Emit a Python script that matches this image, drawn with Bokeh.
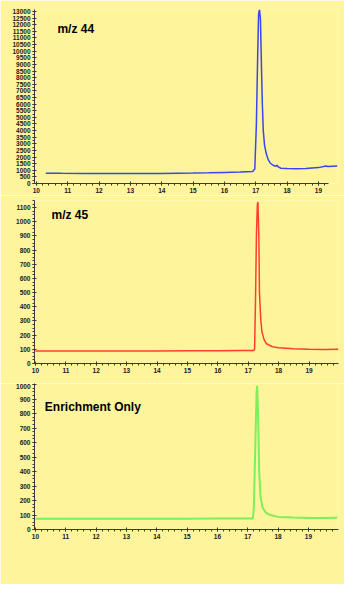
from bokeh.plotting import figure
from bokeh.layouts import column
from bokeh.models import Range1d, Label, SingleIntervalTicker
from bokeh.embed import file_html
from bokeh.resources import INLINE

# ---- data ----
x44 = [10.3, 10.8, 11.5, 12.0, 12.5, 13.0, 13.5, 14.0, 14.5, 15.0, 15.5, 16.0, 16.5, 16.9,
       16.97, 17.02, 17.06, 17.09, 17.12, 17.15, 17.18, 17.21, 17.24, 17.28, 17.33, 17.39,
       17.46, 17.55, 17.64, 17.68, 17.72, 17.8, 18.0, 18.3, 18.6, 19.0, 19.24, 19.3, 19.45, 19.6]
y44 = [780, 770, 765, 760, 755, 757, 760, 760, 775, 790, 810, 840, 870, 900,
       1100, 4500, 9500, 12800, 13150, 12400, 9000, 6000, 4000, 2900, 2300, 1850,
       1550, 1380, 1300, 1380, 1250, 1150, 1130, 1120, 1130, 1200, 1320, 1290, 1310, 1330]

x45 = [10.0, 11.0, 12.0, 13.0, 14.0, 15.0, 16.0, 16.8, 17.18, 17.21, 17.24, 17.27, 17.30,
       17.32, 17.35, 17.37, 17.41, 17.45, 17.52, 17.6, 17.8, 18.0, 18.5, 19.0, 19.5, 19.97]
y45 = [88, 88, 88, 89, 89, 90, 90, 92, 92, 100, 450, 900, 1120,
       1140, 900, 500, 320, 225, 170, 139, 118, 111, 104, 100, 98, 100]

xen = [10.0, 11.0, 12.0, 13.0, 14.0, 15.0, 16.0, 16.8, 17.17, 17.2, 17.25, 17.29, 17.31,
       17.34, 17.375, 17.42, 17.48, 17.58, 17.69, 18.0, 18.5, 19.0, 19.5, 19.95]
yen = [74, 74, 75, 75, 75, 75, 76, 76, 76, 150, 600, 950, 990,
       800, 403, 230, 155, 120, 103, 87, 82, 80, 80, 81]

titles = ["m/z 44", "m/z 45", "Enrichment Only"]

BG = "#FDF49B"
AX = "#3a3a3a"


def panel(h, x, y, color, lw, xr, yr, ytick, yminor, title, tx, ty,
          bl, bt, br, bb, xbounds=None):
    p = figure(width=344, height=h, output_backend="svg", toolbar_location=None,
               x_range=Range1d(*xr), y_range=Range1d(*yr),
               min_border_left=bl, min_border_top=bt, min_border_right=br,
               min_border_bottom=bb)
    p.line(x, y, line_color=color, line_width=lw)
    p.background_fill_color = BG
    p.border_fill_color = BG
    p.outline_line_color = None
    p.xgrid.visible = False
    p.ygrid.visible = False
    p.xaxis.ticker = SingleIntervalTicker(interval=1, num_minor_ticks=5)
    p.yaxis.ticker = SingleIntervalTicker(interval=ytick, num_minor_ticks=yminor)
    for ax in (p.xaxis[0], p.yaxis[0]):
        ax.axis_line_color = AX
        ax.major_tick_line_color = AX
        ax.minor_tick_line_color = AX
        ax.major_label_text_font = "Liberation Sans"
        ax.major_label_text_font_style = "bold"
        ax.major_label_text_font_size = "6.5px"
        ax.major_label_text_color = "#202020"
        ax.major_tick_in = 2
        ax.major_tick_out = 2
        ax.minor_tick_in = 0
        ax.minor_tick_out = 2
    p.xaxis.major_label_standoff = 2
    p.yaxis.major_label_standoff = 2
    if xbounds is not None:
        p.xaxis.bounds = xbounds
    p.add_layout(Label(x=tx, y=ty, text=title, text_font="Liberation Sans",
                       text_font_style="bold", text_font_size="12px",
                       text_color="#000000"))
    return p


p1 = panel(195, x44, y44, "#3B45F0", 1.5, (9.94, 19.64), (0, 13150), 500, 2,
           titles[0], 10.67, 11160, 34, 9, 4, 12, xbounds=(9.94, 19.33))
p2 = panel(188, x45, y45, "#FF3F2A", 1.5, (9.97, 19.97), (0, 1150), 100, 4,
           titles[1], 10.53, 997, 34, 5, 4, 20)
p3 = panel(201, xen, yen, "#7FEE5C", 2, (9.97, 19.99), (0, 1007), 100, 4,
           titles[2], 10.31, 799, 32, 0, 6, 55)

layout = column(p1, p2, p3, spacing=0)
open("out.html", "w").write(file_html(layout, INLINE))
